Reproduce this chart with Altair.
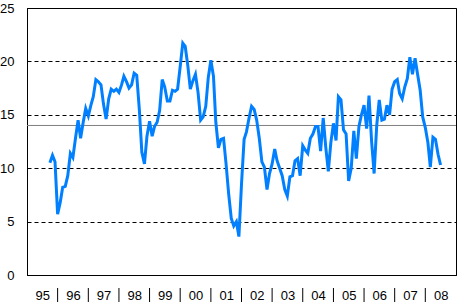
import altair as alt
import pandas as pd

start = "1995-10-01"
values = [
    # 1995 Oct-Dec
    10.5, 11.2, 10.6,
    # 1996
    5.7, 6.8, 8.2, 8.3, 9.3, 11.4, 11.0, 12.8, 14.5, 12.8, 14.3, 15.6,
    # 1997
    14.9, 15.9, 16.7, 18.3, 18.1, 17.8, 16.0, 14.6, 16.5, 17.4, 17.2, 17.4,
    # 1998
    17.1, 17.8, 18.6, 18.1, 17.5, 17.8, 18.9, 18.7, 15.5, 11.5, 10.4, 13.0,
    # 1999
    14.4, 13.0, 13.9, 14.3, 15.4, 18.3, 17.6, 16.3, 16.3, 17.3, 17.2, 17.4,
    # 2000
    19.5, 21.7, 21.4, 19.6, 17.4, 18.2, 18.8, 17.1, 14.5, 14.8, 15.8, 18.5,
    # 2001
    20.1, 18.6, 14.3, 11.9, 12.7, 12.8, 10.4, 7.6, 5.3, 4.6, 5.0, 3.6,
    # 2002
    8.5, 12.7, 13.4, 14.7, 15.8, 15.5, 14.5, 12.8, 10.6, 10.1, 8.0, 9.5,
    # 2003
    10.4, 11.8, 10.7, 10.0, 9.3, 8.0, 7.4, 9.2, 9.3, 10.7, 10.9, 9.3,
    # 2004
    12.1, 11.7, 11.4, 12.8, 13.2, 13.9, 13.9, 11.6, 14.7, 12.0, 9.7, 12.4,
    # 2005
    14.2, 12.6, 16.7, 16.4, 13.6, 13.2, 8.8, 10.0, 13.5, 10.9, 13.9, 15.0,
    # 2006
    15.9, 13.7, 16.8, 12.5, 9.5, 14.0, 16.4, 14.5, 14.6, 15.9, 15.0, 17.4,
    # 2007
    18.1, 18.3, 17.0, 16.5, 17.6, 18.4, 20.4, 18.8, 20.3, 18.8, 17.3, 14.8,
    # 2008 Jan-Jul
    13.8, 12.4, 10.1, 12.9, 12.7, 11.3, 10.3,
]
reference_level = 14
y_ticks = [0, 5, 10, 15, 20, 25]
label_years = list(range(1995, 2009))
separator_years = list(range(1996, 2009))

df = pd.DataFrame({
    "date": pd.date_range(start, periods=len(values), freq="MS").strftime("%Y-%m-%d"),
    "value": values,
})
sep_df = pd.DataFrame({"date": [f"{y}-01-01" for y in separator_years]})
ref_df = pd.DataFrame({"level": [reference_level]})

x_scale = alt.Scale(domain=[alt.DateTime(year=1995, month=1, date=1),
                            alt.DateTime(year=2009, month=1, date=1)])
y_scale = alt.Scale(domain=[0, 25], nice=False)

x_axis = alt.Axis(
    values=[alt.DateTime(year=y, month=7, date=2) for y in label_years],
    format="%y", ticks=False, grid=False, title=None,
    labelPadding=14, labelFont="Liberation Sans", labelFontSize=13,
    labelColor="black", domainColor="black", labelFlush=False,
    labelOverlap=False, labelSeparation=0,
)
y_axis = alt.Axis(
    values=y_ticks, ticks=False, title=None, grid=True,
    gridColor="black", gridDash=[4, 3], gridOpacity=1, gridWidth=1,
    labelPadding=13, labelFont="Liberation Sans", labelFontSize=13,
    labelColor="black", domainColor="black",
)

ref = alt.Chart(ref_df).mark_rule(color="#808080", strokeWidth=1).encode(
    y=alt.Y("level:Q", scale=y_scale, axis=y_axis)
)

line = alt.Chart(df).mark_line(color="#0080FF", strokeWidth=3).encode(
    x=alt.X("date:T", scale=x_scale, axis=x_axis),
    y=alt.Y("value:Q", scale=y_scale, axis=y_axis),
)

seps = alt.Chart(sep_df).mark_rule(color="black", strokeWidth=1).encode(
    x=alt.X("date:T", scale=x_scale, axis=x_axis),
    y=alt.value(280),
    y2=alt.value(294),
)

chart = alt.layer(ref, line, seps).properties(
    width=429, height=267,
    autosize=alt.AutoSizeParams(type="none"),
    padding={"left": 27, "top": 8, "right": 4, "bottom": 28},
    background="white",
).configure_view(stroke="black", strokeWidth=1).configure_axisX(
    labelOverlap=False
)

chart.save("out.html", embed_options={"renderer": "svg", "actions": False})
